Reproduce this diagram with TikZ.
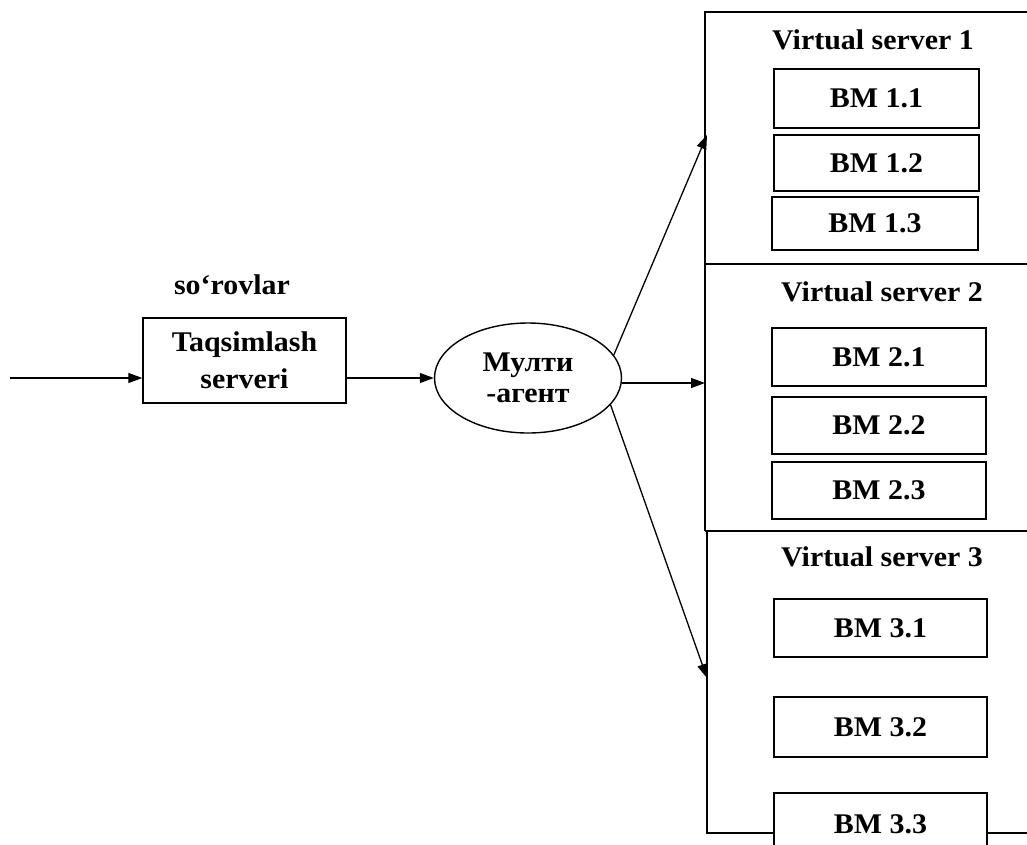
\documentclass[tikz,border=0pt]{standalone}
\usepackage{fontspec}
\setmainfont{Liberation Serif}
\usetikzlibrary{arrows.meta,shapes.geometric}
\newcommand{\wtxt}[1]{\scalebox{1.05}[1]{#1}}
\tikzset{
  lbl/.style={font=\fontsize{28.5}{32}\selectfont\bfseries, inner sep=0pt},
  bmbox/.style={draw, line width=1.4pt, fill=white, font=\fontsize{28.5}{32}\selectfont\bfseries, inner sep=0pt},
  frame/.style={line width=1.4pt},
  arr/.style={line width=1.3pt, -{Triangle[length=14pt,width=10pt]}},
}
\begin{document}
\begin{tikzpicture}[x=1pt,y=-1pt]
\useasboundingbox (0,0) rectangle (1027,844);
% outer virtual server frames (open on the right)
\draw[frame] (1027,12) -- (705,12) -- (705,531);
\draw[frame] (705,264) -- (1027,264);
\draw[frame] (705,531) -- (1027,531);
\draw[frame] (707,531) -- (707,833) -- (1027,833);
% titles
\node[lbl] (vs1) at (873,40) {\wtxt{Virtual server 1}};
\node[lbl] (vs2) at (882,292) {\wtxt{Virtual server 2}};
\node[lbl] (vs3) at (882,557) {\wtxt{Virtual server 3}};
% BM boxes
\node[bmbox, minimum width=205pt, minimum height=59pt] (bm11) at (876.5,98.5) {\wtxt{BM 1.1}};
\node[bmbox, minimum width=205pt, minimum height=56pt] (bm12) at (876.5,163) {\wtxt{BM 1.2}};
\node[bmbox, minimum width=206pt, minimum height=53pt] (bm13) at (875,223.5) {\wtxt{BM 1.3}};
\node[bmbox, minimum width=214pt, minimum height=58pt] (bm21) at (879,357) {\wtxt{BM 2.1}};
\node[bmbox, minimum width=214pt, minimum height=57pt] (bm22) at (879,425.5) {\wtxt{BM 2.2}};
\node[bmbox, minimum width=214pt, minimum height=57pt] (bm23) at (879,490.5) {\wtxt{BM 2.3}};
\node[bmbox, minimum width=213pt, minimum height=58pt] (bm31) at (880.5,628) {\wtxt{BM 3.1}};
\node[bmbox, minimum width=213pt, minimum height=60pt] (bm32) at (880.5,727) {\wtxt{BM 3.2}};
\node[bmbox, minimum width=213pt, minimum height=62pt] (bm33) at (880.5,824) {\wtxt{BM 3.3}};
% left part
\coordinate (in) at (10,378);
\node[lbl] (req) at (232,285) {\wtxt{so‘rovlar}};
\node[draw, line width=1.4pt, minimum width=203pt, minimum height=85pt, align=center,
      font=\fontsize{28.5}{37}\selectfont\bfseries, inner sep=0pt] (taq) at (244.5,360.5)
      {\wtxt{Taqsimlash}\\\wtxt{serveri}};
\node[draw, ellipse, line width=1.4pt, minimum width=187pt, minimum height=110pt, inner sep=0pt,
      align=center, font=\fontsize{28.5}{31}\selectfont\bfseries] (ma) at (528,378)
      {\wtxt{Мулти}\\\wtxt{-агент}};
% connectors
\coordinate (t1) at (707,135);
\coordinate (t2) at (705,383);
\coordinate (t3) at (707,678);
\draw[arr] (in) -- (taq.west |- in);
\draw[arr] (taq.east |- in) -- (ma.west);
\draw[arr] (ma.15) -- (t1);
\draw[arr] (ma.east |- t2) -- (t2);
\draw[arr] (ma.-18) -- (t3);
\end{tikzpicture}
\end{document}
